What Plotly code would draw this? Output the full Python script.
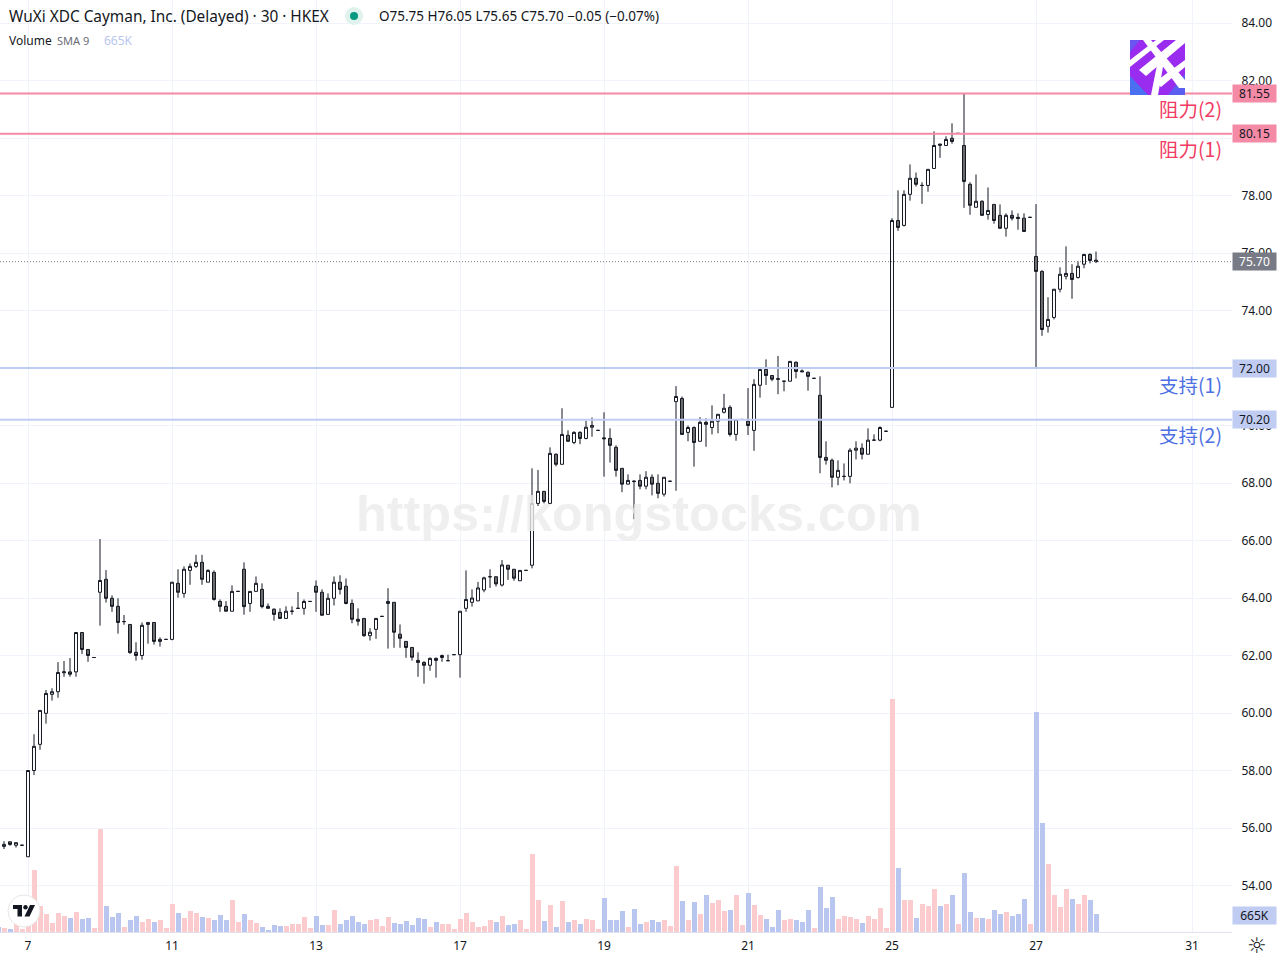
import plotly.graph_objects as go

first_bar = -5
opens = [55.42,55.36,55.52,55.40,55.40,55.00,58.00,58.91,59.99,60.65,60.74,61.40,61.43,61.43,62.80,62.21,61.93,
64.20,64.65,63.99,63.71,63.18,63.08,62.11,62.00,63.08,63.15,62.49,62.56,
62.56,64.51,64.16,64.96,65.10,65.24,64.55,64.89,63.88,63.71,63.54,64.23,
65.00,63.81,64.23,64.30,63.71,63.61,63.50,63.29,63.54,63.64,63.64,63.88,
64.41,64.20,63.43,63.99,64.55,64.41,63.81,63.26,63.29,62.69,62.91,63.36,
63.81,63.85,62.74,62.49,62.28,61.83,61.76,61.66,61.90,61.93,61.82,62.03,
62.03,63.64,63.85,63.90,64.28,64.74,64.74,64.45,65.14,65.00,64.60,64.96,
65.14,67.29,67.71,67.29,69.00,68.65,69.66,69.41,69.76,69.55,69.94,69.83,
69.57,69.55,69.24,68.51,67.96,68.07,68.09,67.89,68.20,67.99,67.61,68.06,
70.83,70.94,69.76,69.93,69.45,70.11,69.93,70.15,70.46,70.63,69.69,70.21,
70.15,69.83,71.40,71.95,71.74,71.63,71.54,71.54,72.20,71.90,71.85,71.64,
71.05,68.89,68.79,68.20,68.23,68.23,69.14,69.21,69.00,69.49,69.49,69.80,
70.63,77.13,76.96,78.04,78.60,78.35,78.35,78.94,79.79,79.74,79.99,80.16,
79.74,78.39,77.59,77.80,77.34,77.69,77.31,76.86,77.31,77.24,77.21,77.24,
75.88,75.36,73.45,73.76,74.74,75.19,75.29,75.15,75.61,75.95,75.75]
highs = [55.45,55.54,55.52,55.49,55.40,58.00,59.26,60.09,60.80,60.86,61.77,61.81,61.91,62.80,62.80,62.21,61.93,
66.05,64.97,64.09,63.99,63.41,63.08,62.46,63.15,63.15,63.15,62.63,62.56,
64.55,65.00,65.10,65.20,65.50,65.50,65.00,64.96,63.95,63.89,64.44,64.23,
65.24,64.23,64.75,64.51,63.81,63.64,63.64,63.71,63.71,64.21,63.95,63.88,
64.61,64.30,64.16,64.75,64.79,64.68,63.95,63.64,63.29,62.95,63.29,63.36,
64.34,63.85,63.08,62.49,62.28,62.11,61.80,61.93,61.93,62.03,62.03,62.03,
63.54,64.96,64.30,64.56,64.74,65.00,64.74,65.32,65.14,65.00,64.96,64.96,
68.51,68.45,67.71,69.24,69.03,70.60,69.83,69.80,69.80,70.16,70.28,69.83,
70.46,69.90,69.31,68.51,68.30,68.09,68.30,68.41,68.30,68.30,68.20,68.06,
71.37,71.01,70.00,69.97,70.29,70.25,70.70,70.39,71.10,70.70,70.21,70.21,
71.30,71.61,72.00,72.30,71.74,72.42,71.54,72.23,72.23,71.95,71.88,71.64,
71.71,69.45,68.85,68.79,68.68,69.21,69.45,69.38,69.90,69.69,69.97,69.80,
77.21,78.18,78.18,79.08,78.80,78.46,78.91,80.23,79.79,80.06,80.51,80.16,
81.55,78.46,78.73,77.83,78.28,77.69,77.69,77.38,77.48,77.38,77.38,77.24,
77.70,75.40,74.46,74.74,75.50,76.23,75.61,75.71,75.97,75.99,76.05]
lows = [55.35,55.27,55.38,55.32,55.40,55.00,57.84,58.72,59.63,60.43,60.53,61.26,61.26,61.26,62.05,61.78,61.93,
63.04,63.84,63.52,62.76,63.07,62.06,61.82,61.85,62.41,62.38,62.31,62.56,
62.53,64.01,64.01,64.46,65.04,64.46,64.55,63.91,63.52,63.54,63.54,64.23,
63.42,63.52,64.23,63.64,63.64,63.21,63.29,63.29,63.42,63.64,63.42,63.88,
63.52,63.40,63.43,63.74,64.12,63.78,63.12,63.04,62.65,62.52,62.58,63.36,
62.24,62.27,62.27,61.92,61.82,61.26,61.02,61.47,61.23,61.78,61.82,62.03,
61.23,63.52,63.70,63.90,64.20,64.35,64.40,64.40,64.63,64.60,64.60,64.96,
65.03,67.20,67.29,67.29,68.58,68.65,69.45,69.35,69.35,69.52,69.61,69.83,
68.22,68.71,68.22,67.68,67.96,66.74,67.78,67.78,67.57,67.47,67.53,68.06,
67.73,69.69,69.45,68.57,69.45,69.26,69.69,69.73,70.42,69.62,69.47,70.21,
69.67,69.12,70.97,71.41,71.54,71.09,71.19,71.54,71.64,71.87,71.21,71.64,
68.34,68.64,67.85,67.92,68.09,67.99,68.82,68.82,69.00,69.49,69.45,69.80,
70.63,76.77,76.92,77.82,78.31,77.71,78.13,78.94,79.31,79.74,79.80,80.16,
77.57,77.33,77.59,77.31,77.16,77.02,76.86,76.57,77.13,76.81,76.75,77.24,
72.00,73.12,73.23,73.69,74.63,75.08,74.41,75.11,75.47,75.64,75.65]
closes = [55.40,55.43,55.43,55.49,55.40,58.00,58.84,60.09,60.68,60.74,61.41,61.43,61.35,62.80,62.21,62.00,61.93,
64.61,63.99,63.71,63.15,63.18,62.10,62.00,63.05,63.15,62.49,62.56,62.56,
64.55,64.20,65.00,65.10,65.24,64.65,64.96,63.95,63.71,63.54,64.23,64.23,
63.70,64.23,64.51,63.70,63.64,63.43,63.29,63.54,63.54,63.64,63.88,63.88,
64.20,63.40,63.99,64.55,64.30,63.81,63.26,63.19,62.69,62.81,63.29,63.36,
63.88,62.81,62.60,62.28,61.94,61.76,61.66,61.90,61.83,62.00,61.82,62.03,
63.54,63.95,64.00,64.35,64.70,64.74,64.49,65.15,65.00,64.69,64.96,64.96,
67.29,67.71,67.36,69.03,68.65,69.69,69.45,69.76,69.55,69.94,70.00,69.83,
69.54,69.31,68.44,67.96,68.09,68.05,67.89,68.20,67.96,67.64,68.20,68.06,
71.01,69.69,69.93,69.41,70.11,70.04,70.15,70.39,70.60,69.69,70.21,70.21,
70.00,71.43,71.95,71.74,71.61,71.61,71.54,72.23,71.88,71.87,71.71,71.64,
68.89,68.79,68.20,68.44,68.23,69.14,69.21,69.00,69.49,69.49,69.93,69.80,
77.13,76.89,78.04,78.60,78.39,78.35,78.91,79.74,79.75,79.95,79.88,80.16,
78.49,77.66,77.80,77.31,77.48,77.13,76.86,77.31,77.21,77.20,76.75,77.24,
75.36,73.34,73.69,74.74,75.26,75.29,75.08,75.54,75.95,75.74,75.70]
volumes_k = [185,148,111,295,111,1230,2288,959,665,332,701,590,517,738,480,517,148,
3801,959,554,701,185,443,590,369,480,369,443,148,
1033,701,517,775,701,554,517,443,627,443,1181,369,
665,443,332,185,74,258,221,221,295,295,554,148,
590,258,258,812,295,443,590,369,295,443,480,221,
554,332,295,406,258,517,480,185,369,295,295,111,
480,701,369,185,221,443,369,590,258,295,443,111,
2878,1181,406,996,185,1144,369,443,295,480,443,111,
1255,443,443,775,185,849,295,369,443,369,443,221,
2435,1144,443,1107,665,1365,1070,1181,775,812,1365,258,
1439,996,627,480,185,812,443,480,443,369,812,148,
1661,886,1292,480,590,554,480,332,590,480,886,148,
8598,2362,1181,1181,517,1033,959,1587,959,1033,1365,295,
2177,738,517,517,480,812,665,738,590,665,1218,295,
8118,4022,2509,1365,923,1587,1218,1033,1365,1181,665]

date_ticks = [0, 24, 48, 72, 96, 120, 144, 168, 194]
date_labels = ["7", "11", "13", "17", "19", "21", "25", "27", "31"]
price_ticks = list(range(54, 86, 2))

resistance_levels = [81.55, 80.15]
resistance_names = ["阻力(2)", "阻力(1)"]
support_levels = [72.00, 70.20]
support_names = ["支持(1)", "支持(2)"]
last_price = 75.70
last_volume_label = "665K"

W, H = 1280, 960
PL, PB = 1232, 932  # plot width / height in pixels
bar_index = list(range(first_bar, first_bar + len(opens)))
DARK = "#131722"
GRID = "#f0f3fa"
PINK = "#fccbcd"
BLUE = "#b9c6f0"
RLINE = "#f48aa6"
SLINE = "#c0ccf2"
FONT = "Noto Sans"


def fx(px):
    return px / PL


def fy(py):
    return 1 - py / PB


fig = go.Figure()
fig.add_trace(go.Bar(
    x=bar_index, y=volumes_k, yaxis="y", width=0.83, offset=-0.41,
    marker=dict(color=[PINK if c >= o else BLUE for o, c in zip(opens, closes)], line=dict(width=0)),
    hoverinfo="skip", showlegend=False))
fig.add_trace(go.Candlestick(
    x=bar_index, open=opens, high=highs, low=lows, close=closes, yaxis="y2",
    increasing=dict(line=dict(color=DARK, width=1), fillcolor="#ffffff"),
    decreasing=dict(line=dict(color=DARK, width=1), fillcolor="#6e6e6e"),
    whiskerwidth=0, showlegend=False))

shapes = []
annots = []


def text(px, py, s, size=12, color=DARK, xanchor="left", family=FONT, **kw):
    annots.append(dict(xref="paper", yref="paper", x=fx(px), y=fy(py), text=s, showarrow=False,
                       xanchor=xanchor, yanchor="middle", font=dict(size=size, color=color, family=family),
                       borderpad=0, **kw))


def tag(value, label, bg, color=DARK):
    annots.append(dict(xref="paper", yref="y2", x=1.0, y=value, text=label, showarrow=False,
                       xanchor="left", yanchor="middle", width=43, height=17, bgcolor=bg, align="center",
                       font=dict(size=12, color=color, family=FONT), borderpad=0))


# horizontal levels
for lv in resistance_levels:
    shapes.append(dict(type="line", xref="paper", yref="y2", x0=0, x1=1, y0=lv, y1=lv,
                       line=dict(color=RLINE, width=2)))
    tag(lv, f"{lv:.2f}", RLINE)
for lv in support_levels:
    shapes.append(dict(type="line", xref="paper", yref="y2", x0=0, x1=1, y0=lv, y1=lv,
                       line=dict(color=SLINE, width=2)))
    tag(lv, f"{lv:.2f}", SLINE)
shapes.append(dict(type="line", xref="paper", yref="y2", x0=0, x1=1, y0=last_price, y1=last_price,
                   line=dict(color="#787b86", width=1, dash="1px,2px")))
tag(last_price, f"{last_price:.2f}", "#787b86", "#ffffff")

# level names
CJK = "Noto Sans CJK TC"
for py, name in zip([108, 148], resistance_names):
    text(1222.5, py, name, size=19.5, color="#f23a63", xanchor="right", family=CJK)
for py, name in zip([384, 434], support_names):
    text(1222.5, py, name, size=19.5, color="#4d70e3", xanchor="right", family=CJK)

# volume tag at the bottom right
annots.append(dict(xref="paper", yref="paper", x=1.0, y=fy(915), text=last_volume_label, showarrow=False,
                   xanchor="left", yanchor="middle", width=43, height=17, bgcolor=SLINE, align="center",
                   font=dict(size=12, color=DARK, family=FONT), borderpad=0))

# header
text(8, 16, "WuXi XDC Cayman, Inc. (Delayed) · 30 · HKEX", size=15.4)
text(378, 16, "O75.75 H76.05 L75.65 C75.70 −0.05 (−0.07%)", size=13.5)
text(8, 40.5, "Volume", size=12)
text(55.5, 40.5, "SMA 9", size=11, color="#6a6d78")
text(102.5, 40.5, "665K", size=12, color=BLUE)


def circle(cx, cy, r, fill, line=None, lw=0):
    shapes.append(dict(type="circle", xref="paper", yref="paper", x0=fx(cx - r), x1=fx(cx + r),
                       y0=fy(cy + r), y1=fy(cy - r), fillcolor=fill,
                       line=dict(color=line or fill, width=lw)))


def poly(points, fill):
    d = "M " + " L ".join(f"{fx(x):.5f},{fy(y):.5f}" for x, y in points) + " Z"
    shapes.append(dict(type="path", xref="paper", yref="paper", path=d, fillcolor=fill, line=dict(width=0)))


circle(354, 16, 9, "#dff2ee")
circle(354, 16, 4, "#089981")

# purple badge
poly([(1130, 40), (1185, 40), (1185, 95), (1130, 95)], "#9a2cf0")
poly([(1130, 76), (1148, 95), (1130, 95)], "#4a6ff0")
poly([(1130, 40), (1140, 40), (1130, 52)], "#6a55f0")
poly([(1185, 74), (1185, 95), (1168, 95)], "#5a5ff0")
for p in [
    [(1130, 60), (1156, 40), (1164, 40), (1130, 67)],
    [(1139, 70), (1176, 40), (1185, 40), (1185, 43), (1146, 76)],
    [(1155, 82), (1185, 60), (1185, 67), (1161, 87)],
    [(1143, 40), (1151, 40), (1185, 80), (1185, 88), (1179, 88)],
    [(1157, 65), (1164, 61), (1158, 95), (1151, 95)],
]:
    poly(p, "#ffffff")

# TradingView mark
circle(24, 911, 16, "#ffffff", "#e6e6e6", 1)
poly([(13, 905), (22, 905), (22, 916.5), (17.5, 916.5), (17.5, 909), (13, 909)], DARK)
circle(25.5, 907.3, 2.2, DARK)
poly([(30, 905), (35, 905), (29.5, 916.5), (24.5, 916.5)], DARK)

# settings glyph
text(1257, 945.5, "☼", size=22, color=DARK, xanchor="center", family="DejaVu Sans")

# watermark
text(639, 513, "<b>https://kongstocks.com</b>", size=50.4, color="rgba(236,236,236,0.82)", xanchor="center",
     family="Liberation Sans")

fig.update_layout(
    width=W, height=H,
    margin=dict(l=0, r=W - PL, t=0, b=H - PB, autoexpand=False),
    paper_bgcolor="#ffffff", plot_bgcolor="#ffffff",
    boxgap=0.3, bargap=0,
    xaxis=dict(type="linear", range=[-28 / 6, (PL - 28) / 6], rangeslider=dict(visible=False),
               tickmode="array", tickvals=date_ticks, ticktext=date_labels,
               showgrid=True, gridcolor=GRID, gridwidth=1, zeroline=False,
               showline=True, linecolor="#e0e3eb", linewidth=1,
               ticks="outside", ticklen=3, tickcolor="rgba(0,0,0,0)",
               tickfont=dict(size=12, color=DARK, family=FONT)),
    yaxis=dict(range=[0, 8598 / 233 * PB], visible=False, showgrid=False, zeroline=False),
    yaxis2=dict(overlaying="y", side="right", range=[84 - (PB - 23) / 28.75, 84 + 23 / 28.75],
                tickmode="array", tickvals=price_ticks, ticktext=[f"{v:.2f}" for v in price_ticks],
                showgrid=True, gridcolor=GRID, gridwidth=1, zeroline=False, showline=False,
                ticks="outside", ticklen=6, tickcolor="rgba(0,0,0,0)",
                tickfont=dict(size=12, color=DARK, family=FONT)),
    shapes=shapes, annotations=annots, hovermode=False, showlegend=False,
)

fig.write_html("out.html", config={"displayModeBar": False},
               post_script="document.body.style.margin='0';document.body.style.overflow='hidden';")
